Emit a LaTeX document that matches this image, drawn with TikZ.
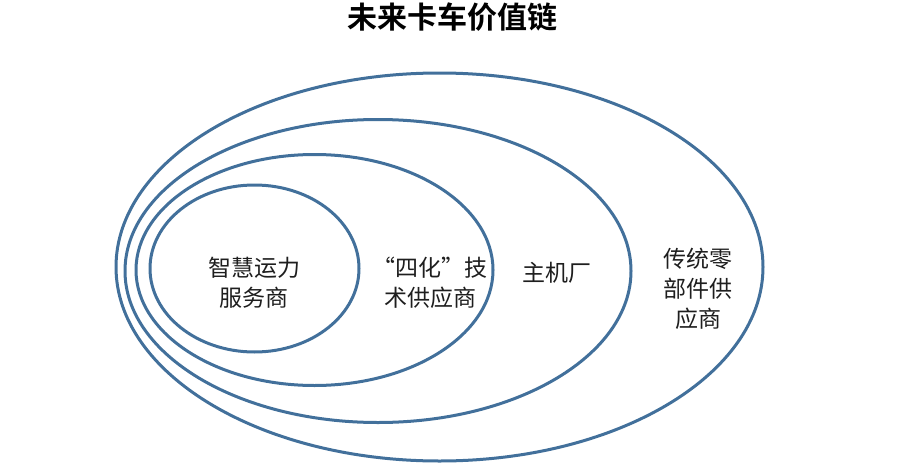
\documentclass[tikz,border=0pt]{standalone}
\usepackage{fontspec}
\setmainfont{Noto Sans CJK SC}
\newfontfamily\cjkbold{Noto Sans CJK SC Bold}
\usetikzlibrary{shapes.geometric}
\definecolor{ringblue}{RGB}{66,112,155}
\definecolor{txt}{RGB}{30,30,30}
\begin{document}
\begin{tikzpicture}[x=1pt,y=-1pt,
  ring/.style={draw=ringblue, line width=3pt, ellipse, inner sep=0pt, outer sep=0pt},
  lbl/.style={text=txt, font=\fontsize{23}{30}\selectfont, align=center, inner sep=0pt},
  ttl/.style={text=black, font=\cjkbold\fontsize{30}{34}\selectfont, inner sep=0pt}]
\useasboundingbox (0,0) rectangle (900,474);
\node[ring, minimum width=647pt, minimum height=388pt] (outer) at (439.5,267) {};
\node[ring, minimum width=506pt, minimum height=303pt] (oem) at (378,271) {};
\node[ring, minimum width=357pt, minimum height=231pt] (tech) at (314.5,270) {};
\node[ring, minimum width=209pt, minimum height=167pt] (svc) at (254.5,268.5) {};
\node[ttl] (title) at (452,17) {未来卡车价值链};
\node[lbl] (l1) at (254,283) {智慧运力\\服务商};
\node[lbl] (l2) at (430,283) {“四化”技\\术供应商};
\node[lbl] (l3) at (557,273) {主机厂};
\node[lbl] (l4) at (698,289) {传统零\\部件供\\应商};
\end{tikzpicture}
\end{document}
